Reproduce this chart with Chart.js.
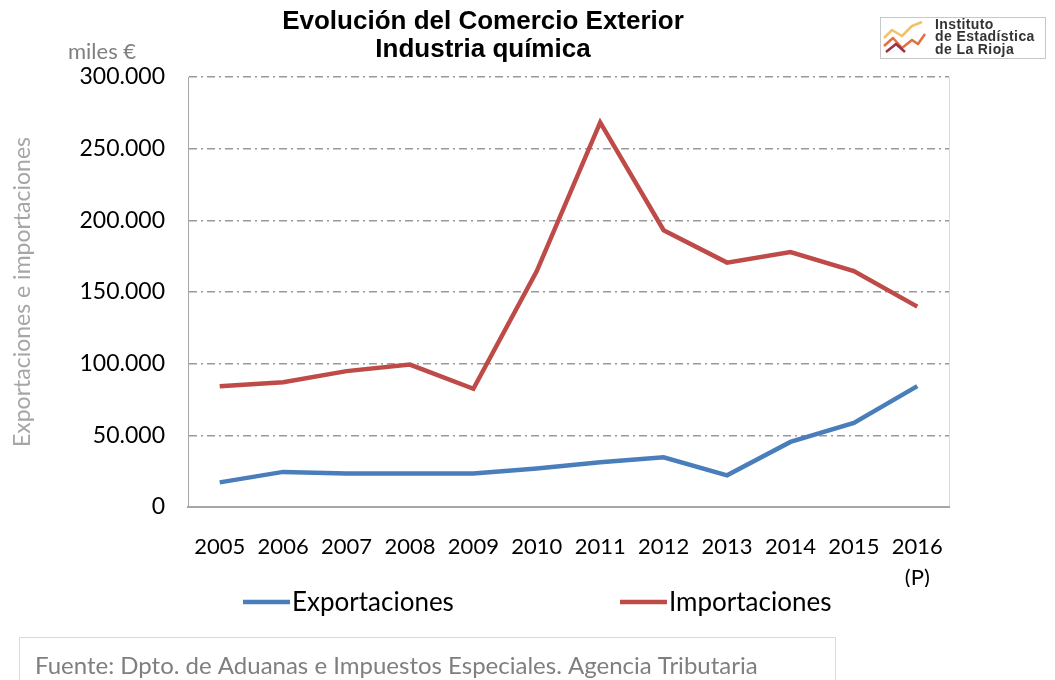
<!DOCTYPE html>
<html>
<head>
<meta charset="utf-8">
<script src="https://cdn.jsdelivr.net/npm/chart.js@4.4.1/dist/chart.umd.min.js"></script>
<style>
html,body{margin:0;padding:0;background:#fff;}
#wrap{width:1055px;height:680px;position:relative;}
</style>
</head>
<body>
<div id="wrap"><canvas id="c" width="1055" height="680"></canvas></div>
<script>
const years = ['2005','2006','2007','2008','2009','2010','2011','2012','2013','2014','2015',['2016','(P)']];
const exportaciones = [17200, 24500, 23300, 23300, 23300, 26800, 31200, 34700, 22100, 45400, 58700, 84300];
const importaciones = [84300, 87100, 94800, 99400, 82500, 164600, 268300, 193100, 170500, 177900, 164600, 139800];
const seriesNames = ['Exportaciones', 'Importaciones'];
const titleLines = ['Evolución del Comercio Exterior', 'Industria química'];
const yTitle = 'Exportaciones e importaciones';
const unitLabel = 'miles €';
const sourceText = 'Fuente: Dpto. de Aduanas e Impuestos Especiales. Agencia Tributaria';
const logoLines = ['Instituto', 'de Estadística', 'de La Rioja'];

const BLUE = '#4A7EBB', RED = '#BE4B48';
const FONT = 'Lato, "Open Sans", sans-serif';

function fmt(v){ return String(v).replace(/\B(?=(\d{3})+(?!\d))/g, '.'); }

const decor = {
  id: 'decor',
  beforeDraw(chart){
    const ctx = chart.ctx, a = chart.chartArea;
    ctx.save();
    ctx.strokeStyle = '#d9d9d9'; ctx.lineWidth = 1;
    ctx.beginPath(); ctx.moveTo(a.right+0.5, a.top); ctx.lineTo(a.right+0.5, a.bottom); ctx.stroke();
    ctx.restore();
  },
  afterDraw(chart){
    const ctx = chart.ctx;
    ctx.save();
    // title
    ctx.fillStyle = '#000'; ctx.textAlign = 'center'; ctx.textBaseline = 'middle';
    ctx.font = 'bold 26px "Liberation Sans", Arial, sans-serif';
    ctx.fillText(titleLines[0], 483, 22);
    ctx.fillText(titleLines[1], 483, 50);
    // unit
    ctx.fillStyle = '#808080'; ctx.textAlign = 'left';
    ctx.font = '22px ' + FONT;
    ctx.fillText(unitLabel, 68, 52);
    // logo
    ctx.strokeStyle = '#c8c8c8'; ctx.lineWidth = 1;
    ctx.strokeRect(880.5, 17.5, 165, 41);
    ctx.lineWidth = 2.5; ctx.lineJoin = 'round';
    ctx.strokeStyle = '#f2c26b';
    ctx.beginPath(); ctx.moveTo(884,38); ctx.lineTo(892,30); ctx.lineTo(902,36); ctx.lineTo(912,26); ctx.lineTo(922,22); ctx.stroke();
    ctx.strokeStyle = '#e07040';
    ctx.beginPath(); ctx.moveTo(884,46); ctx.lineTo(893,38); ctx.lineTo(902,48); ctx.lineTo(912,40); ctx.lineTo(918,44); ctx.lineTo(925,34); ctx.stroke();
    ctx.strokeStyle = '#a03040';
    ctx.beginPath(); ctx.moveTo(886,52); ctx.lineTo(896,44); ctx.lineTo(905,52); ctx.stroke();
    ctx.fillStyle = '#333'; ctx.textAlign = 'left';
    ctx.font = 'bold 14px "Liberation Sans", Arial, sans-serif';
    ctx.letterSpacing = '0.4px';
    ctx.fillText(logoLines[0], 935, 25);
    ctx.fillText(logoLines[1], 935, 37.5);
    ctx.fillText(logoLines[2], 935, 50);
    ctx.letterSpacing = '0px';
    // legend
    const xs = [243, 620];
    chart.data.datasets.forEach((ds, i) => {
      ctx.strokeStyle = ds.borderColor; ctx.lineWidth = 4.5; ctx.lineCap = 'butt';
      ctx.beginPath(); ctx.moveTo(xs[i], 602); ctx.lineTo(xs[i]+47, 602); ctx.stroke();
      ctx.fillStyle = '#000'; ctx.font = '26px ' + FONT; ctx.textBaseline = 'middle';
      ctx.fillText(ds.label, xs[i]+49, 603);
    });
    // source box
    ctx.strokeStyle = '#d9d9d9'; ctx.lineWidth = 1;
    ctx.strokeRect(19.5, 637.5, 816, 60);
    ctx.fillStyle = '#7f7f7f'; ctx.font = '24px ' + FONT; ctx.textBaseline = 'middle';
    ctx.fillText(sourceText, 35, 666);
    ctx.restore();
  }
};

new Chart(document.getElementById('c'), {
  type: 'line',
  data: {
    labels: years,
    datasets: [
      { label: seriesNames[0], data: exportaciones, borderColor: BLUE, backgroundColor: BLUE, borderWidth: 4.5, pointRadius: 0, tension: 0 },
      { label: seriesNames[1], data: importaciones, borderColor: RED, backgroundColor: RED, borderWidth: 4.5, pointRadius: 0, tension: 0 }
    ]
  },
  options: {
    responsive: false,
    animation: false,
    devicePixelRatio: 1,
    layout: { padding: { top: 77, right: 106, left: 0, bottom: 93 } },
    plugins: { legend: { display: false }, title: { display: false }, tooltip: { enabled: false } },
    scales: {
      x: {
        offset: true,
        grid: { display: false, drawTicks: false },
        border: { color: '#a6a6a6', width: 2 },
        ticks: { color: '#000', font: { family: FONT, size: 22, lineHeight: 1.4 }, padding: 25, maxRotation: 0, autoSkip: false },
        afterFit(s){ s.height = 80; }
      },
      y: {
        min: 0, max: 300000,
        ticks: { stepSize: 50000, color: '#000', font: { family: FONT, size: 23 }, padding: 23, callback: v => fmt(v) },
        grid: { drawTicks: false, color: c => c.tick.value === 0 ? 'rgba(0,0,0,0)' : '#9a9a9a', lineWidth: 1.5 },
        border: { color: '#a6a6a6', width: 1, dash: [8, 4, 2, 4] },
        title: { display: true, text: yTitle, color: '#a6a6a6', font: { family: FONT, size: 23 }, padding: { top: 9, bottom: 0 } },
        afterFit(s){ s.width = 188; }
      }
    }
  },
  plugins: [decor]
});
</script>
</body>
</html>
